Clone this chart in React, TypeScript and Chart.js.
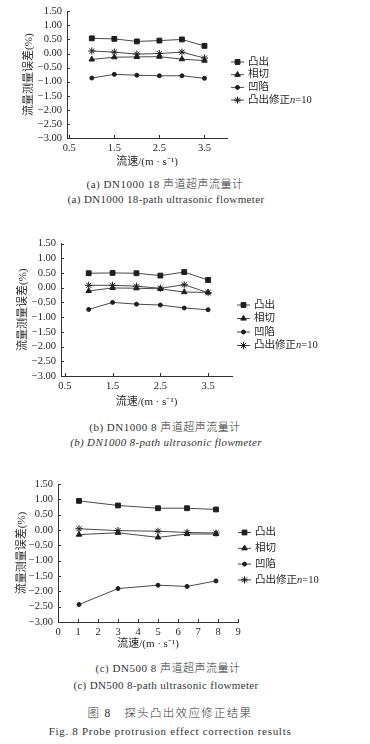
import React, { useEffect, useRef } from 'react';
import { Chart, registerables } from 'chart.js';
import { drawPoint } from 'chart.js/helpers';

Chart.register(...registerables);

// ---------- data ----------
const seriesNames = ['凸出', '相切', '凹陷', '凸出修正n=10'];
const yTicks = [1.5, 1.0, 0.5, 0.0, -0.5, -1.0, -1.5, -2.0, -2.5, -3.0];

// (a) DN1000 18-path
const speedA = [1.0, 1.5, 2.0, 2.5, 3.0, 3.5];
const protrudeA = [0.54, 0.52, 0.43, 0.46, 0.5, 0.27];
const tangentA = [-0.21, -0.13, -0.12, -0.11, -0.2, -0.25];
const recessA = [-0.87, -0.74, -0.77, -0.79, -0.79, -0.88];
const correctedA = [0.09, 0.05, -0.02, 0.0, 0.05, -0.16];
const xTicksA = [0.5, 1.5, 2.5, 3.5];

// (b) DN1000 8-path
const speedB = [1.0, 1.5, 2.0, 2.5, 3.0, 3.5];
const protrudeB = [0.49, 0.5, 0.49, 0.41, 0.53, 0.26];
const tangentB = [-0.11, -0.01, -0.02, -0.04, -0.15, -0.16];
const recessB = [-0.74, -0.5, -0.56, -0.59, -0.69, -0.75];
const correctedB = [0.08, 0.08, 0.05, -0.02, 0.1, -0.17];
const xTicksB = [0.5, 1.5, 2.5, 3.5];

// (c) DN500 8-path
const speedC = [1.05, 3.0, 5.0, 6.45, 7.9];
const protrudeC = [0.95, 0.8, 0.71, 0.71, 0.67];
const tangentC = [-0.15, -0.09, -0.24, -0.13, -0.13];
const recessC = [-2.43, -1.91, -1.8, -1.84, -1.66];
const correctedC = [0.04, -0.02, -0.04, -0.08, -0.1];
const xTicksC = [0, 1, 2, 3, 4, 5, 6, 7, 8, 9];

// ---------- styles ----------
const FONT = "'Liberation Serif', 'Noto Sans CJK SC', serif";
const TEXT = '#262626';
const LINE = '#4a4a4a';
const MARK = '#1e1e1e';
const pointStyles = ['rect', 'triangle', 'circle', 'star'];
const pointRadii = [3.4, 3.2, 2.0, 3.6];
const LH = 12; // title line height

type Panel = {
  top: number;
  height: number;
  speeds: number[];
  series: number[][];
  xTicks: number[];
  xMin: number;
  xMax: number;
  xDec: number;
  area: { left: number; right: number; top: number; bottom: number };
  yTitleX: number;
  xTitleY: number;
  legend: { x: number; y: number; dy: number };
};

const panels: Panel[] = [
  {
    top: 0,
    height: 172,
    speeds: speedA,
    series: [protrudeA, tangentA, recessA, correctedA],
    xTicks: xTicksA,
    xMin: 0.45,
    xMax: 4.0,
    xDec: 1,
    area: { left: 67, right: 227, top: 11, bottom: 138 },
    yTitleX: 29,
    xTitleY: 162,
    legend: { x: 231, y: 62, dy: 12.7 },
  },
  {
    top: 230,
    height: 182,
    speeds: speedB,
    series: [protrudeB, tangentB, recessB, correctedB],
    xTicks: xTicksB,
    xMin: 0.42,
    xMax: 4.0,
    xDec: 1,
    area: { left: 61, right: 232, top: 13.5, bottom: 146 },
    yTitleX: 23,
    xTitleY: 172.5,
    legend: { x: 237, y: 75, dy: 13.5 },
  },
  {
    top: 470,
    height: 184,
    speeds: speedC,
    series: [protrudeC, tangentC, recessC, correctedC],
    xTicks: xTicksC,
    xMin: 0,
    xMax: 9,
    xDec: 0,
    area: { left: 58, right: 238, top: 14, bottom: 152 },
    yTitleX: 22,
    xTitleY: 174,
    legend: { x: 238, y: 62.5, dy: 15.8 },
  },
];

const captions = [
  { y: 184, cx: 165, text: '(a) DN1000 18 声道超声流量计', size: 11, italic: false, ls: 0.5 },
  { y: 199, cx: 166, text: '(a) DN1000 18-path ultrasonic flowmeter', size: 11, italic: false, ls: 0.35 },
  { y: 427, cx: 165, text: '(b) DN1000 8 声道超声流量计', size: 11, italic: false, ls: 0.5 },
  { y: 442, cx: 166, text: '(b) DN1000 8-path ultrasonic flowmeter', size: 11, italic: true, ls: 0.35 },
  { y: 668, cx: 168, text: '(c) DN500 8 声道超声流量计', size: 11, italic: false, ls: 0.5 },
  { y: 685, cx: 166, text: '(c) DN500 8-path ultrasonic flowmeter', size: 11, italic: false, ls: 0.35 },
  { y: 713, cx: 170, text: '图 8　探头凸出效应修正结果', size: 11.5, italic: false, ls: 1.3 },
  { y: 731, cx: 170, text: 'Fig. 8 Probe protrusion effect correction results', size: 11, italic: false, ls: 0.7 },
];

const fmtY = (v: number) => (v < 0 ? '\u2212' : '') + Math.abs(v).toFixed(2);

const legendPlugin = (p: Panel) => ({
  id: 'customLegend',
  afterDraw(chart: any) {
    const ctx = chart.ctx;
    ctx.save();
    chart.data.datasets.forEach((ds: any, i: number) => {
      const y = p.legend.y + i * p.legend.dy;
      const x0 = p.legend.x;
      const x1 = x0 + 13;
      ctx.strokeStyle = LINE;
      ctx.lineWidth = 1;
      ctx.beginPath();
      ctx.moveTo(x0, y);
      ctx.lineTo(x1, y);
      ctx.stroke();
      ctx.fillStyle = MARK;
      ctx.strokeStyle = MARK;
      drawPoint(ctx, { pointStyle: pointStyles[i], radius: pointRadii[i], borderWidth: 1, rotation: 0 } as any, (x0 + x1) / 2, y);
      ctx.fillStyle = TEXT;
      ctx.textBaseline = 'middle';
      ctx.textAlign = 'left';
      let tx = x1 + 4;
      const name: string = ds.label;
      const m = name.match(/^(.*?)n(=.*)$/);
      ctx.font = `10.5px ${FONT}`;
      if (m) {
        ctx.fillText(m[1], tx, y);
        tx += ctx.measureText(m[1]).width;
        ctx.font = `italic 10.5px ${FONT}`;
        ctx.fillText('n', tx, y);
        tx += ctx.measureText('n').width;
        ctx.font = `10.5px ${FONT}`;
        ctx.fillText(m[2], tx, y);
      } else {
        ctx.fillText(name, tx, y);
      }
    });
    ctx.restore();
  },
});

const inwardTicks = {
  id: 'inwardTicks',
  afterDraw(chart: any) {
    const { ctx, chartArea } = chart;
    const xs = chart.scales.x;
    const ys = chart.scales.y;
    ctx.save();
    ctx.strokeStyle = '#333';
    ctx.lineWidth = 1;
    ctx.beginPath();
    xs.ticks.forEach((t: any) => {
      const px = Math.round(xs.getPixelForValue(t.value)) + 0.5;
      ctx.moveTo(px, chartArea.bottom);
      ctx.lineTo(px, chartArea.bottom - 3);
    });
    ys.ticks.forEach((t: any) => {
      const py = Math.round(ys.getPixelForValue(t.value)) + 0.5;
      ctx.moveTo(chartArea.left, py);
      ctx.lineTo(chartArea.left + 3, py);
    });
    ctx.stroke();
    ctx.restore();
  },
};

function PanelChart({ p }: { p: Panel }) {
  const ref = useRef<HTMLCanvasElement | null>(null);
  useEffect(() => {
    if (!ref.current) return;
    const tickFont = { family: FONT, size: 10.5 };
    const titleFont = { family: FONT, size: 11, lineHeight: LH / 11 };
    const chart = new Chart(ref.current, {
      type: 'line',
      data: {
        datasets: seriesNames.map((name, i) => ({
          label: name,
          data: p.speeds.map((s, j) => ({ x: s, y: p.series[i][j] })),
          borderColor: LINE,
          borderWidth: 1,
          backgroundColor: MARK,
          pointStyle: pointStyles[i] as any,
          pointRadius: pointRadii[i],
          pointBorderWidth: 1,
          pointBorderColor: MARK,
          pointBackgroundColor: MARK,
          tension: 0,
        })),
      },
      options: {
        responsive: false,
        animation: false,
        events: [],
        layout: {
          padding: {
            left: p.yTitleX - LH / 2,
            top: p.area.top,
            right: 370 - p.area.right,
            bottom: p.height - (p.xTitleY + LH / 2),
          },
        },
        plugins: { legend: { display: false }, tooltip: { enabled: false } },
        scales: {
          x: {
            type: 'linear',
            min: p.xMin,
            max: p.xMax,
            afterBuildTicks: (ax: any) => {
              ax.ticks = p.xTicks.map((v) => ({ value: v }));
            },
            afterFit: (s: any) => {
              s.height = p.xTitleY + LH / 2 - p.area.bottom;
            },
            grid: { display: false, drawTicks: false },
            border: { display: true, color: '#333', width: 1 },
            ticks: {
              font: tickFont,
              color: TEXT,
              padding: 4,
              autoSkip: false,
              maxRotation: 0,
              callback: (v: any) => Number(v).toFixed(p.xDec),
            },
            title: { display: true, text: '流速/(m · s⁻¹)', font: titleFont, color: TEXT, padding: 0 },
          },
          y: {
            type: 'linear',
            min: -3,
            max: 1.5,
            afterBuildTicks: (ax: any) => {
              ax.ticks = yTicks.map((v) => ({ value: v }));
            },
            afterFit: (s: any) => {
              s.width = p.area.left - (p.yTitleX - LH / 2);
            },
            grid: { display: false, drawTicks: false },
            border: { display: true, color: '#333', width: 1 },
            ticks: {
              font: tickFont,
              color: TEXT,
              padding: 5,
              autoSkip: false,
              callback: (v: any) => fmtY(Number(v)),
            },
            title: { display: true, text: '流量测量误差(%)', font: titleFont, color: TEXT, padding: 0 },
          },
        },
      } as any,
      plugins: [legendPlugin(p), inwardTicks],
    });
    return () => chart.destroy();
  }, [p]);
  return (
    <canvas
      ref={ref}
      width={370}
      height={p.height}
      style={{ position: 'absolute', left: 0, top: p.top, width: 370, height: p.height, display: 'block' }}
    />
  );
}

export default function App() {
  return (
    <div
      style={{
        position: 'absolute',
        left: 0,
        top: 0,
        width: 370,
        height: 744,
        background: '#ffffff',
        overflow: 'hidden',
        fontFamily: FONT,
        color: '#333333',
      }}
    >
      {panels.map((p, i) => (
        <PanelChart key={i} p={p} />
      ))}
      {captions.map((c, i) => (
        <div
          key={'c' + i}
          style={{
            position: 'absolute',
            left: c.cx - 170,
            width: 340,
            top: c.y - 8,
            height: 16,
            lineHeight: '16px',
            textAlign: 'center',
            fontSize: c.size,
            fontWeight: 300,
            fontStyle: c.italic ? 'italic' : 'normal',
            letterSpacing: c.ls,
            whiteSpace: 'nowrap',
          }}
        >
          {c.text}
        </div>
      ))}
    </div>
  );
}
